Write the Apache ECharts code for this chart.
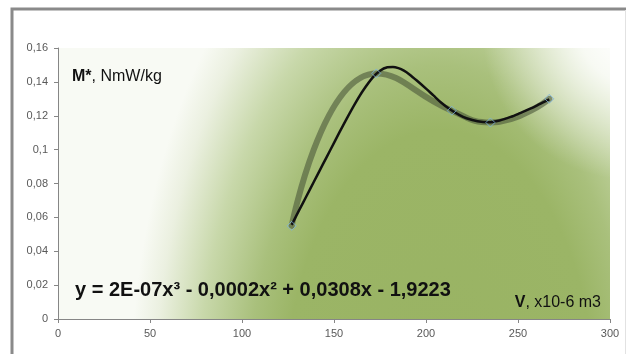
<!DOCTYPE html>
<html>
<head>
<meta charset="utf-8">
<script src="https://cdn.jsdelivr.net/npm/echarts@6/dist/echarts.min.js"></script>
<style>
html, body { margin: 0; padding: 0; background: #fff; }
#chart { width: 627px; height: 354px; }
</style>
</head>
<body>
<div id="chart"></div>
<script>
// measured points
const volume = [127, 173, 214, 235, 267];
const power = [0.055, 0.145, 0.123, 0.116, 0.130];

// cubic trend line
const trendVolume = [127, 131, 135, 139, 144, 148, 153, 157, 162, 166, 171, 175, 179, 182, 185, 188, 191, 195, 200, 204, 208, 213, 218, 222, 228, 234, 240, 246, 251, 257, 262, 267];
const trendPower = [0.0556, 0.0641, 0.0725, 0.0809, 0.0914, 0.0998, 0.1103, 0.1185, 0.1282, 0.1352, 0.1425, 0.1466, 0.1486, 0.1488, 0.1481, 0.1466, 0.1444, 0.1408, 0.136, 0.132, 0.128, 0.1238, 0.1205, 0.1185, 0.1167, 0.1161, 0.1172, 0.1193, 0.1215, 0.1243, 0.127, 0.1297];

const xTicks = { min: 0, max: 300, step: 50 };
const yTicks = { min: 0, max: 0.16, step: 0.02 };

const yLabel = "M*";
const yUnit = ", NmW/kg";
const xLabel = "V";
const xUnit = ", x10-6 m3";
const equation = "y = 2E-07x³ - 0,0002x² + 0,0308x - 1,9223";

const grid = { left: 58, top: 48, right: 17, bottom: 35 };
const width = 627;
const height = 354;
const plotW = width - grid.left - grid.right;
const plotH = height - grid.top - grid.bottom;

// elliptical glow behind the plot: centre and radii in pixels
const glow = { cx: 440, cy: 400, rx: 310, ry: 540 };
const stretch = glow.ry / glow.rx;
// white fade in the top right corner of the plot
const fade = { cx: 632, cy: 30, r: 150 };

const zip = (xs, ys) => xs.map((x, i) => [x, ys[i]]);
const comma = (v) => String(parseFloat(v.toFixed(2))).replace(".", ",");

const chart = echarts.init(document.getElementById("chart"), null, { renderer: "canvas" });

chart.setOption({
	animation: false,
	backgroundColor: "#fff",
	textStyle: { fontFamily: "Liberation Sans, Arial, sans-serif" },
	grid: { left: grid.left, top: grid.top, right: grid.right, bottom: grid.bottom },
	graphic: [
		{
			type: "rect",
			z: -10,
			silent: true,
			x: grid.left,
			y: grid.top,
			scaleY: stretch,
			shape: { x: 0, y: 0, width: plotW, height: plotH / stretch },
			style: {
				fill: new echarts.graphic.RadialGradient(
					glow.cx - grid.left,
					(glow.cy - grid.top) / stretch,
					glow.rx,
					[
						{ offset: 0, color: "#99b363" },
						{ offset: 0.5, color: "#9bb566" },
						{ offset: 0.62, color: "#a9c07c" },
						{ offset: 0.78, color: "#c8d8aa" },
						{ offset: 0.92, color: "#ebf0e0" },
						{ offset: 1, color: "#f8faf4" },
					],
					true
				),
			},
		},
		{
			type: "rect",
			z: -9,
			silent: true,
			shape: { x: grid.left, y: grid.top, width: plotW, height: plotH },
			style: {
				fill: new echarts.graphic.RadialGradient(fade.cx, fade.cy, fade.r, [
					{ offset: 0, color: "rgba(255,255,255,1)" },
					{ offset: 0.35, color: "rgba(255,255,255,0.85)" },
					{ offset: 1, color: "rgba(255,255,255,0)" },
				], true),
			},
		},
		{
			type: "polyline",
			z: 100,
			silent: true,
			shape: { points: [[12, 360], [12, 9], [626, 9]] },
			style: { fill: "none", stroke: "#8a8a8a", lineWidth: 3 },
		},
		{
			type: "line",
			z: 100,
			silent: true,
			shape: { x1: 625.5, y1: 10, x2: 625.5, y2: 360 },
			style: { stroke: "#e2e2e2", lineWidth: 1 },
		},
		{
			type: "text",
			z: 100,
			x: 72,
			y: 77,
			style: {
				text: "{b|" + yLabel + "}{n|" + yUnit + "}",
				verticalAlign: "middle",
				rich: {
					b: { fontSize: 16, fontWeight: "bold", fill: "#111", fontFamily: "Liberation Sans" },
					n: { fontSize: 16, fill: "#111", fontFamily: "Liberation Sans" },
				},
			},
		},
		{
			type: "text",
			z: 100,
			x: 75,
			y: 290,
			style: {
				text: equation,
				verticalAlign: "middle",
				font: "bold 20px 'Liberation Sans'",
				fill: "#111",
			},
		},
		{
			type: "text",
			z: 100,
			x: 601,
			y: 303,
			style: {
				text: "{b|" + xLabel + "}{n|" + xUnit + "}",
				align: "right",
				verticalAlign: "middle",
				rich: {
					b: { fontSize: 16, fontWeight: "bold", fill: "#111", fontFamily: "Liberation Sans" },
					n: { fontSize: 16, fill: "#111", fontFamily: "Liberation Sans" },
				},
			},
		},
	],
	xAxis: {
		type: "value",
		min: xTicks.min,
		max: xTicks.max,
		interval: xTicks.step,
		splitLine: { show: false },
		axisLine: { lineStyle: { color: "#868686", width: 1 } },
		axisTick: { show: true, length: 4, lineStyle: { color: "#868686" } },
		axisLabel: { color: "#595959", fontSize: 11, margin: 9, formatter: comma },
	},
	yAxis: {
		type: "value",
		min: yTicks.min,
		max: yTicks.max,
		interval: yTicks.step,
		splitLine: { show: false },
		axisLine: { show: true, lineStyle: { color: "#868686", width: 1 } },
		axisTick: { show: true, length: 4, lineStyle: { color: "#868686" } },
		axisLabel: { color: "#595959", fontSize: 11, margin: 10, formatter: comma },
	},
	series: [
		{
			name: "M*",
			type: "line",
			data: zip(volume, power),
			smooth: 0.5,
			symbol: "none",
			z: 2,
			lineStyle: { color: "rgba(78, 90, 60, 0.62)", width: 6, cap: "round" },
		},
		{
			name: "trend",
			type: "line",
			data: zip(trendVolume, trendPower),
			smooth: 0.3,
			symbol: "none",
			z: 3,
			lineStyle: { color: "#111", width: 2.5 },
		},
		{
			name: "points",
			type: "scatter",
			data: zip(volume, power),
			symbol: "diamond",
			symbolSize: 9,
			z: 4,
			itemStyle: { color: "rgba(0,0,0,0)", borderColor: "#7cb3e0", borderWidth: 1 },
		},
	],
});
</script>
</body>
</html>
